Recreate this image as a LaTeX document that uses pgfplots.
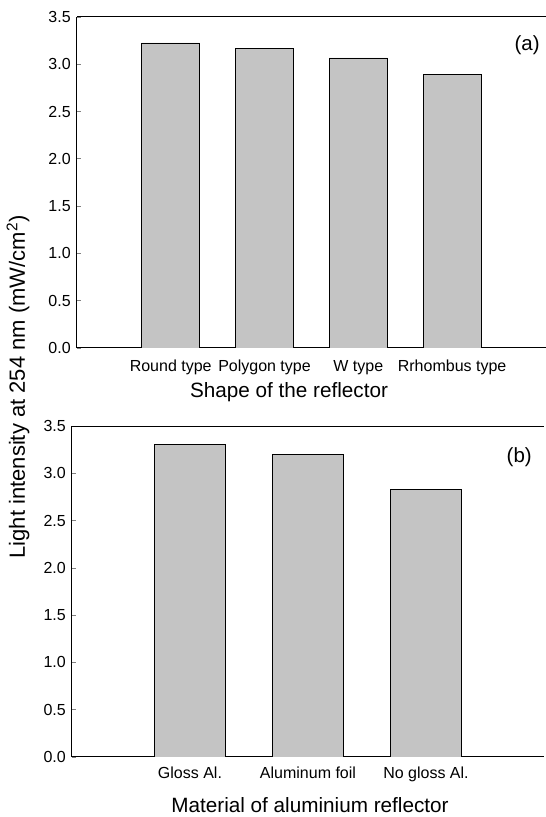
\documentclass[border=0pt]{standalone}
\usepackage{fontspec}
\setmainfont{Liberation Sans}
\usepackage{pgfplots}
\pgfplotsset{compat=1.18}
\definecolor{barfill}{RGB}{196,196,196}
\begin{document}
\begin{tikzpicture}[x=1pt,y=1pt]
\pgfplotsset{
  myax/.style={
    scale only axis, anchor=south west,
    xmin=0, ymin=0, ymax=3.5,
    axis x line*=box, axis y line*=left,
    axis line style={line width=1pt},
    ytick={0,0.5,1,1.5,2,2.5,3,3.5},
    yticklabel style={xshift=-2.7pt},
    y tick label style={/pgf/number format/fixed, /pgf/number format/fixed zerofill, /pgf/number format/precision=1, /pgf/number format/assume math mode=true},
    tick label style={font=\fontsize{16}{18}\selectfont},
    tick align=inside,
    ytick style={line width=0.8pt},
    major tick length=4pt,
    xtick style={draw=none},
  }
}
\begin{axis}[myax, at={(82,496)}, width=469pt, height=331pt, xmax=5,
  xtick={1,2,3,4},
  xticklabels={Round type, Polygon type, W type, Rrhombus type},
  xticklabel style={yshift=-8.7pt}]
\addplot[ybar, bar width=0.62, fill=barfill, draw=black, line width=0.8pt]
  coordinates {(1,3.225) (2,3.165) (3,3.066) (4,2.89)};
\node[font=\fontsize{20.5}{24}\selectfont] at (axis cs:4.80,3.20) {(a)};
\end{axis}
\begin{axis}[myax, at={(61,63.6)}, width=472pt, height=330.7pt, xmax=4,
  xtick={1,2,3},
  xticklabels={Gloss Al., Aluminum foil, No gloss Al.},
  xticklabel style={yshift=-6pt}]
\addplot[ybar, bar width=0.6, fill=barfill, draw=black, line width=0.8pt]
  coordinates {(1,3.306) (2,3.20) (3,2.83)};
\node[font=\fontsize{20.5}{24}\selectfont] at (axis cs:3.79,3.17) {(b)};
\end{axis}
\node[font=\fontsize{20.7}{24}\selectfont] at (289,424.5) {Shape of the reflector};
\node[font=\fontsize{20.7}{24}\selectfont] at (310,12) {Material of aluminium reflector};
\node[font=\fontsize{22}{25}\selectfont, rotate=90] at (18,430) {Light intensity at 254 nm (mW/cm\textsuperscript{2})};
\pgfresetboundingbox
\useasboundingbox (0,0) rectangle (546,817);
\end{tikzpicture}
\end{document}
